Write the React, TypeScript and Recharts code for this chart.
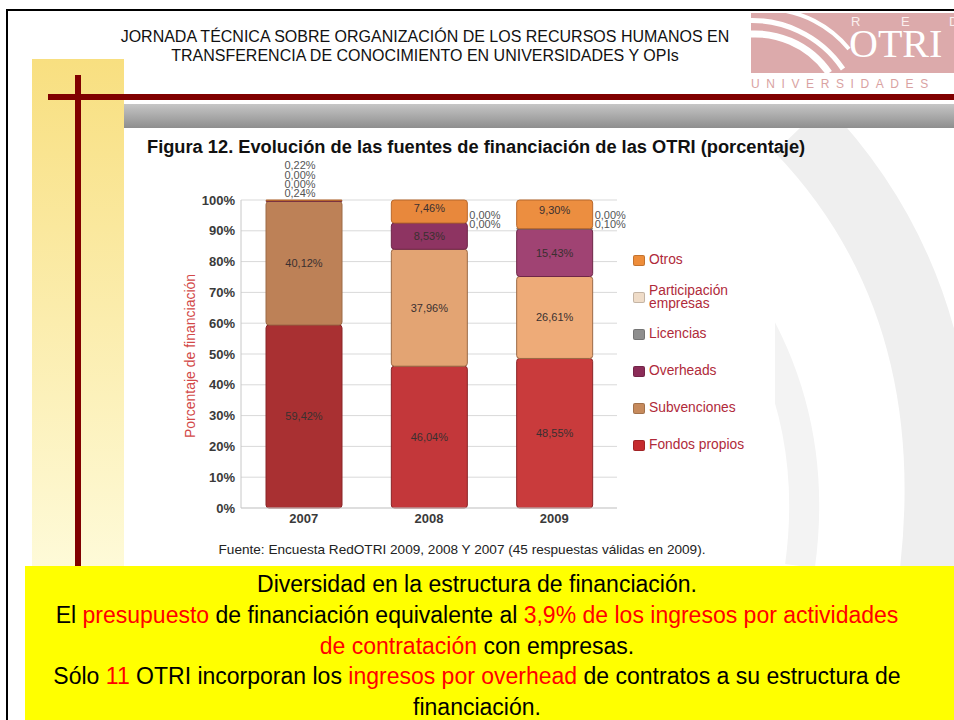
import React from 'react';
import { BarChart, Bar, XAxis, YAxis, CartesianGrid, Cell, LabelList } from 'recharts';

// Fuentes de financiación de las OTRI (%), por año
const years = ['2007', '2008', '2009'];
const fondosPropios = [59.42, 46.04, 48.55];
const subvenciones = [40.12, 37.96, 26.61];
const overheads = [0.24, 8.53, 15.43];
const licencias = [0.0, 0.0, 0.1];
const participacion = [0.0, 0.0, 0.0];
const otros = [0.22, 7.46, 9.3];
const yTicks = [0, 10, 20, 30, 40, 50, 60, 70, 80, 90, 100];

const data = years.map((year, i) => ({
  year,
  fondos: fondosPropios[i],
  subvenciones: subvenciones[i],
  overheads: overheads[i],
  licencias: licencias[i],
  participacion: participacion[i],
  otros: otros[i],
}));

// stacked bottom -> top
const series = [
  { key: 'fondos', name: 'Fondos propios', colors: ['#a93032', '#c3373a', '#c93b3c'], stroke: '#8a2426', legend: '#c52b2e' },
  { key: 'subvenciones', name: 'Subvenciones', colors: ['#bd8157', '#e3a473', '#eeab78'], stroke: '#9c6a46', legend: '#c68a5c' },
  { key: 'overheads', name: 'Overheads', colors: ['#6e2636', '#8e3462', '#a04373'], stroke: '#6e2648', legend: '#8b2c58' },
  { key: 'licencias', name: 'Licencias', colors: ['#8e8e8e', '#8e8e8e', '#8e8e8e'], stroke: '#6e6e6e', legend: '#8e8e8e' },
  { key: 'participacion', name: 'Participación empresas', colors: ['#efdcc8', '#efdcc8', '#efdcc8'], stroke: '#c8b8a8', legend: '#efdcc8' },
  { key: 'otros', name: 'Otros', colors: ['#8a3a30', '#e8883c', '#ec8e40'], stroke: '#b8682c', legend: '#ee8d3a' },
];

const FONT = '"Liberation Sans", Arial, Helvetica, sans-serif';

const fmt = (v: number) => v.toFixed(2).replace('.', ',') + '%';

const box = (props: any) => {
  const vb = props.viewBox || props;
  return { x: Number(vb.x), y: Number(vb.y), w: Number(vb.width), h: Number(vb.height), v: Number(props.value) };
};

const smallText = (key: string, x: number, y: number, v: number, anchor: 'middle' | 'start') => (
  <text key={key} x={x} y={y} textAnchor={anchor} dominantBaseline="central" fontSize={11} fill="#555" fontFamily={FONT}>
    {fmt(v)}
  </text>
);

// centred label inside a segment, only for visible values
const insideLabel = (props: any) => {
  const { x, y, w, h, v } = box(props);
  if (isNaN(v) || isNaN(x) || v < 1) return null;
  return (
    <text x={x + w / 2} y={y + h / 2} textAnchor="middle" dominantBaseline="central" fontSize={11} fill="#3a3030" fontFamily={FONT}>
      {fmt(v)}
    </text>
  );
};

// top segment: its own label plus the labels of the tiny segments of that year
const topLabel = (props: any) => {
  const { x, y, w, h, v } = box(props);
  const i = Number(props.index);
  if (isNaN(x) || isNaN(i)) return null;
  const items: React.ReactNode[] = [];
  if (overheads[i] < 1) {
    // whole group stacked above the bar
    const stack = [overheads[i], licencias[i], participacion[i], otros[i]];
    stack.forEach((val, k) => items.push(smallText(`s${k}`, x + w / 2 - 4, y - 7 - k * 9.2, val, 'middle')));
  } else {
    items.push(<text key="own" x={x + w / 2} y={y + h / 2 - 4} textAnchor="middle" dominantBaseline="central" fontSize={11} fill="#3a3030" fontFamily={FONT}>{fmt(v)}</text>);
    items.push(smallText('p', x + w + 2, y + 15, participacion[i], 'start'));
    items.push(smallText('l', x + w + 2, y + 24, licencias[i], 'start'));
  }
  return <g>{items}</g>;
};

const abs = (s: React.CSSProperties): React.CSSProperties => ({ position: 'absolute', ...s });
const red = { color: '#ff0000' };

export default function App() {
  return (
    <div style={abs({ left: 0, top: 0, width: 954, height: 720, overflow: 'hidden', background: '#fff', fontFamily: FONT })}>
      {/* faint watermark */}
      <svg width={954} height={720} style={abs({ left: 0, top: 0 })}>
        <path d="M 800 128 Q 965 300 935 570" stroke="#efefef" strokeWidth={70} fill="none" />
        <path d="M 745 300 Q 820 420 800 566" stroke="#f3f3f3" strokeWidth={30} fill="none" />
      </svg>

      {/* slide frame */}
      <div style={abs({ left: 6, top: 9, width: 2, height: 711, background: '#000' })} />
      <div style={abs({ left: 6, top: 9, width: 948, height: 2, background: '#000' })} />

      {/* logo */}
      <div style={abs({ left: 751, top: 13, width: 203, height: 60, background: '#dcaaab', overflow: 'hidden' })}>
        <svg width={203} height={60}>
          <path d="M -10 22 A 90 90 0 0 1 78 60" stroke="#fff" strokeWidth={7} fill="none" />
          <path d="M -10 8 A 110 110 0 0 1 92 56" stroke="#fff" strokeWidth={5} fill="none" />
          <path d="M 20 -4 A 110 110 0 0 1 98 36" stroke="#fff" strokeWidth={4} fill="none" />
          <text x={100} y={13} fill="#fbeeee" fontSize={13} fontFamily={FONT}>R</text>
          <text x={150} y={13} fill="#fbeeee" fontSize={13} fontFamily={FONT}>E</text>
          <text x={198} y={13} fill="#fbeeee" fontSize={13} fontFamily={FONT}>D</text>
          <text x={98} y={44} fill="#fff" fontSize={40} fontFamily='"Liberation Serif", "Times New Roman", serif'>OTRI</text>
        </svg>
      </div>
      <div style={abs({ left: 751, top: 77, fontSize: 12, color: '#d9a2a2', letterSpacing: 6.6, whiteSpace: 'nowrap' })}>
        UNIVERSIDADES
      </div>

      {/* header */}
      <div style={abs({ left: 25, top: 27, width: 800, textAlign: 'center', fontSize: 16, lineHeight: '19px', color: '#111' })}>
        JORNADA TÉCNICA SOBRE ORGANIZACIÓN DE LOS RECURSOS HUMANOS EN
        <br />
        TRANSFERENCIA DE CONOCIMIENTO EN UNIVERSIDADES Y OPIs
      </div>

      {/* left decoration */}
      <div style={abs({ left: 32, top: 59, width: 92, height: 507, background: 'linear-gradient(#f8df80, #fefad8)' })} />
      <div style={abs({ left: 75, top: 75, width: 6, height: 491, background: '#800000' })} />
      <div style={abs({ left: 48, top: 94, width: 906, height: 6, background: '#800000' })} />
      <div style={abs({ left: 124, top: 104, width: 830, height: 24, background: 'linear-gradient(#c6c6c6, #8e8e8e)' })} />

      {/* chart image background */}
      <div style={abs({ left: 165, top: 132, width: 610, height: 401, background: '#fff' })} />

      {/* title */}
      <div style={abs({ left: 147, top: 137, fontSize: 18.25, lineHeight: '20px', fontWeight: 'bold', color: '#111', whiteSpace: 'nowrap' })}>
        Figura 12. Evolución de las fuentes de financiación de las OTRI (porcentaje)
      </div>

      {/* axis title */}
      <div style={abs({ left: 190, top: 356, transform: 'translate(-50%, -50%) rotate(-90deg)', fontSize: 14, color: '#d24848', whiteSpace: 'nowrap' })}>
        Porcentaje de financiación
      </div>

      {/* chart */}
      <div style={abs({ left: 150, top: 150 })}>
        <BarChart width={480} height={390} data={data} margin={{ top: 50, right: 13, bottom: 6, left: 31 }} barSize={76} style={{ fontFamily: FONT }}>
          <CartesianGrid vertical={false} stroke="#d9d9d9" />
          <XAxis
            dataKey="year"
            height={26}
            axisLine={{ stroke: '#d0d0d0' }}
            tickLine={false}
            tickSize={0}
            tickMargin={6}
            tick={{ fontSize: 13, fontWeight: 'bold', fill: '#3a3a3a' }}
          />
          <YAxis
            width={60}
            domain={[0, 100]}
            ticks={yTicks}
            tickFormatter={(v: number) => `${v}%`}
            axisLine={{ stroke: '#c8c8c8' }}
            tickLine={false}
            tickSize={0}
            tickMargin={6}
            tick={{ fontSize: 13, fontWeight: 'bold', fill: '#3a3a3a' }}
          />
          <YAxis yAxisId="right" orientation="right" width={0} domain={[0, 100]} tick={false} tickLine={false} axisLine={{ stroke: '#d0d0d0' }} />
          {series.map((s) => (
            <Bar key={s.key} dataKey={s.key} name={s.name} stackId="a" radius={3} stroke={s.stroke} strokeWidth={1} isAnimationActive={false}>
              {data.map((d, i) => (
                <Cell key={d.year} fill={s.colors[i]} />
              ))}
              <LabelList dataKey={s.key} content={s.key === 'otros' ? topLabel : insideLabel} />
            </Bar>
          ))}
        </BarChart>
      </div>

      {/* legend */}
      <div style={abs({ left: 633, top: 242 })}>
        {[...series].reverse().map((s) => (
          <div key={s.key} style={{ display: 'flex', alignItems: 'center', height: 37 }}>
            <div style={{ width: 12, height: 11, background: s.legend, border: '1px solid rgba(0,0,0,0.18)', borderRadius: 2, boxSizing: 'border-box', marginRight: 4, flex: 'none' }} />
            <div style={{ fontSize: 13.8, lineHeight: '12.5px', color: '#b02a3a', width: 110 }}>{s.name}</div>
          </div>
        ))}
      </div>

      {/* source */}
      <div style={abs({ left: 462, top: 549, transform: 'translate(-50%, -50%)', fontSize: 13.6, color: '#222', whiteSpace: 'nowrap' })}>
        Fuente: Encuesta RedOTRI 2009, 2008 Y 2007 (45 respuestas válidas en 2009).
      </div>

      {/* conclusions */}
      <div style={abs({ left: 25, top: 566, width: 929, height: 154, background: '#ffff00' })}>
        <div style={{ width: 904, paddingTop: 3, textAlign: 'center', fontSize: 23, lineHeight: '30.8px', color: '#000', whiteSpace: 'nowrap' }}>
          Diversidad en la estructura de financiación.
          <br />
          El <span style={red}>presupuesto</span> de financiación equivalente al{' '}
          <span style={red}>3,9% de los ingresos por actividades</span>
          <br />
          <span style={red}>de contratación</span> con empresas.
          <br />
          Sólo <span style={red}>11</span> OTRI incorporan los <span style={red}>ingresos por overhead</span> de contratos a su estructura de
          <br />
          financiación.
        </div>
      </div>
    </div>
  );
}
